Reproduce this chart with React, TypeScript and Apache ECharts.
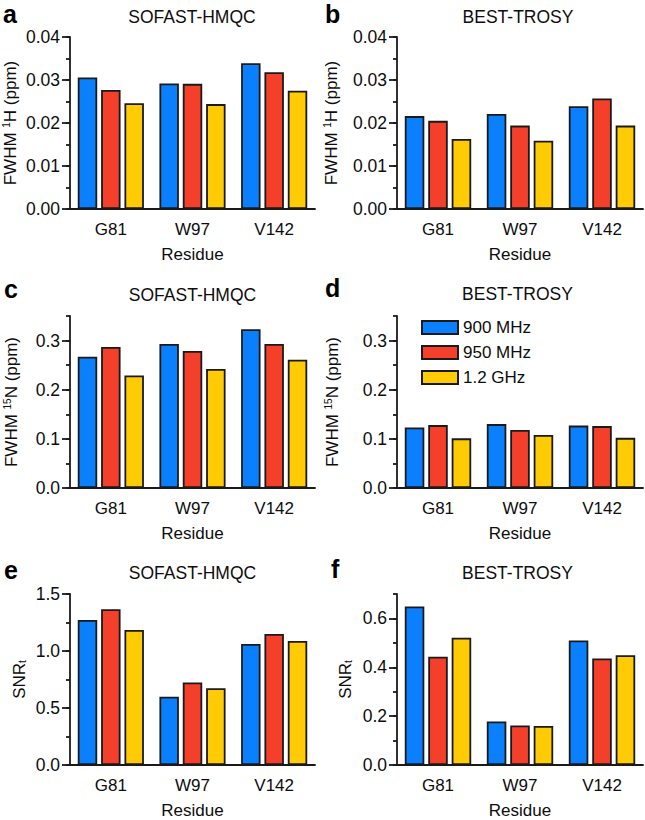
import React, { useEffect, useRef } from 'react';
import * as echarts from 'echarts';

const residues = ['G81', 'W97', 'V142'];
const seriesNames = ['900 MHz', '950 MHz', '1.2 GHz'];

// a: SOFAST-HMQC, FWHM 1H
const aH900 = [0.0306, 0.0292, 0.0339];
const aH950 = [0.0277, 0.0291, 0.0318];
const aH1200 = [0.0246, 0.0244, 0.0275];
// b: BEST-TROSY, FWHM 1H
const bH900 = [0.0216, 0.0221, 0.0239];
const bH950 = [0.0205, 0.0194, 0.0257];
const bH1200 = [0.0163, 0.0159, 0.0194];
// c: SOFAST-HMQC, FWHM 15N
const cN900 = [0.267, 0.293, 0.323];
const cN950 = [0.287, 0.279, 0.293];
const cN1200 = [0.229, 0.242, 0.261];
// d: BEST-TROSY, FWHM 15N
const dN900 = [0.123, 0.13, 0.127];
const dN950 = [0.128, 0.118, 0.126];
const dN1200 = [0.101, 0.108, 0.102];
// e: SOFAST-HMQC, SNRt
const eS900 = [1.273, 0.599, 1.062];
const eS950 = [1.366, 0.724, 1.149];
const eS1200 = [1.184, 0.674, 1.088];
// f: BEST-TROSY, SNRt
const fS900 = [0.649, 0.178, 0.51];
const fS950 = [0.443, 0.162, 0.436];
const fS1200 = [0.521, 0.16, 0.449];

const ticksH = [0, 0.01, 0.02, 0.03, 0.04];
const ticksN = [0, 0.1, 0.2, 0.3];
const ticksSE = [0, 0.5, 1.0, 1.5];
const ticksSF = [0, 0.2, 0.4, 0.6];

const panelLetters = ['a', 'b', 'c', 'd', 'e', 'f'];
const panelTitles = ['SOFAST-HMQC', 'BEST-TROSY', 'SOFAST-HMQC', 'BEST-TROSY', 'SOFAST-HMQC', 'BEST-TROSY'];

const COLORS = ['#0a80ff', '#f43f2b', '#ffcb05'];
const FONT = '"Liberation Sans", Arial, Helvetica, sans-serif';
const AX = '#1a1a1a';
const TXT = '#0d0d0d';

export default function App() {
  const ref = useRef<HTMLDivElement>(null);
  useEffect(() => {
    if (!ref.current) return;
    const chart = echarts.init(ref.current, undefined, { renderer: 'svg' });

    const panels = [
      { data: [aH900, aH950, aH1200], max: 0.04, minor: 0.005, major: 0.01, ticks: ticksH, dec: 2,
        name: 'FWHM {sup|1}H (ppm)', gap: 60, grid: { left: 70, top: 37, width: 245, height: 172 } },
      { data: [bH900, bH950, bH1200], max: 0.04, minor: 0.005, major: 0.01, ticks: ticksH, dec: 2,
        name: 'FWHM {sup|1}H (ppm)', gap: 66, grid: { left: 397, top: 37, width: 246, height: 172 } },
      { data: [cN900, cN950, cN1200], max: 0.35, minor: 0.05, major: 0.1, ticks: ticksN, dec: 1,
        name: 'FWHM {sup|15}N (ppm)', gap: 59, grid: { left: 70, top: 316, width: 245, height: 172 } },
      { data: [dN900, dN950, dN1200], max: 0.35, minor: 0.05, major: 0.1, ticks: ticksN, dec: 1,
        name: 'FWHM {sup|15}N (ppm)', gap: 65, grid: { left: 397, top: 316, width: 246, height: 172 } },
      { data: [eS900, eS950, eS1200], max: 1.5, minor: 0.25, major: 0.5, ticks: ticksSE, dec: 1,
        name: 'SNR{sub|t}', gap: 51, grid: { left: 70, top: 594, width: 245, height: 173 } },
      { data: [fS900, fS950, fS1200], max: 0.7, minor: 0.1, major: 0.2, ticks: ticksSF, dec: 1,
        name: 'SNR{sub|t}', gap: 52, grid: { left: 397, top: 594, width: 246, height: 173 } },
    ];

    const grids: any[] = [];
    const xAxes: any[] = [];
    const yAxes: any[] = [];
    const series: any[] = [];

    panels.forEach((p, i) => {
      grids.push({ ...p.grid, containLabel: false });
      xAxes.push({
        type: 'category',
        gridIndex: i,
        data: residues,
        axisLine: { lineStyle: { color: AX, width: 1.8 } },
        axisTick: { alignWithLabel: true, length: 5, lineStyle: { color: AX, width: 1.8 } },
        axisLabel: { fontSize: 17, color: TXT, margin: 12, fontFamily: FONT },
        name: 'Residue',
        nameLocation: 'middle',
        nameGap: 37,
        nameTextStyle: { fontSize: 17, color: TXT, fontFamily: FONT },
        splitLine: { show: false },
      });
      // minor-tick axis (carries the data and line)
      yAxes.push({
        type: 'value',
        gridIndex: i,
        position: 'left',
        offset: 0,
        min: 0,
        max: p.max,
        interval: p.minor,
        axisLine: { show: true, onZero: false, lineStyle: { color: AX, width: 1.8 } },
        axisTick: { show: true, length: 4, lineStyle: { color: AX, width: 1.8 } },
        axisLabel: { show: false },
        splitLine: { show: false },
      });
      // major-tick axis (labels and name)
      yAxes.push({
        type: 'value',
        gridIndex: i,
        position: 'left',
        offset: 0,
        min: 0,
        max: p.max,
        interval: p.major,
        axisLine: { show: false, onZero: false },
        axisTick: { show: true, length: 8, customValues: p.ticks, lineStyle: { color: AX, width: 1.8 } },
        axisLabel: {
          show: true,
          customValues: p.ticks,
          fontSize: 17.5,
          color: TXT,
          margin: 10,
          fontFamily: FONT,
          formatter: (v: number) => v.toFixed(p.dec),
        },
        splitLine: { show: false },
        name: p.name,
        nameLocation: 'middle',
        nameGap: p.gap,
        nameTextStyle: {
          fontSize: 17,
          color: TXT,
          fontFamily: FONT,
          verticalAlign: 'middle',
          rich: {
            sup: { fontSize: 10, verticalAlign: 'top', color: TXT, fontFamily: FONT },
            sub: { fontSize: 10, verticalAlign: 'bottom', color: TXT, fontFamily: FONT },
          },
        },
      });
      p.data.forEach((vals, k) => {
        series.push({
          type: 'bar',
          name: seriesNames[k],
          xAxisIndex: i,
          yAxisIndex: 2 * i,
          data: vals,
          barGap: '20%',
          barCategoryGap: '19%',
          itemStyle: { color: COLORS[k], borderColor: '#1a1a1a', borderWidth: 1.8 },
        });
      });
    });

    const letterPos = [
      [3, 13.5], [325, 13.5], [4, 288.5], [325, 287.5], [4, 569.5], [331, 568.5],
    ];
    const titlePos = [
      [192, 17], [518, 17], [192.5, 295], [517.5, 294], [192.5, 573], [517.5, 573],
    ];
    const graphics: any[] = [];
    panelLetters.forEach((l, i) => {
      graphics.push({
        type: 'text',
        x: letterPos[i][0],
        y: letterPos[i][1],
        style: {
          text: l,
          fontSize: 25,
          fontWeight: 'bold',
          fontFamily: FONT,
          fill: '#000',
          align: 'left',
          verticalAlign: 'middle',
        },
      });
      graphics.push({
        type: 'text',
        x: titlePos[i][0],
        y: titlePos[i][1],
        style: {
          text: panelTitles[i],
          fontSize: 17.5,
          fontFamily: FONT,
          fill: TXT,
          align: 'center',
          verticalAlign: 'middle',
        },
      });
    });

    chart.setOption({
      animation: false,
      backgroundColor: '#ffffff',
      textStyle: { fontFamily: FONT },
      grid: grids,
      xAxis: xAxes,
      yAxis: yAxes,
      series,
      legend: {
        data: seriesNames,
        orient: 'vertical',
        left: 421,
        top: 319,
        itemWidth: 36,
        itemHeight: 13,
        itemGap: 8,
        padding: 0,
        selectedMode: false,
        icon: 'rect',
        textStyle: { fontSize: 17, color: TXT, fontFamily: FONT },
      },
      graphic: graphics,
    });

    return () => chart.dispose();
  }, []);

  return (
    <div
      ref={ref}
      style={{ position: 'absolute', left: 0, top: 0, width: 645, height: 820 }}
    />
  );
}
